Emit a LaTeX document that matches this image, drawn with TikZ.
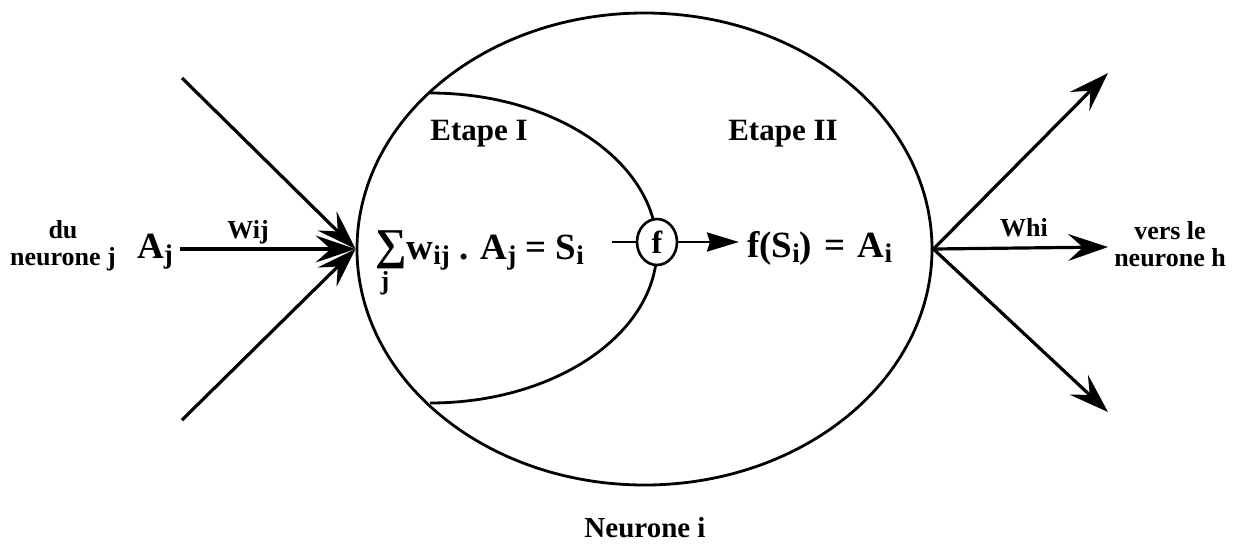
\documentclass[tikz,border=0pt]{standalone}
\usepackage{fontspec}
\setmainfont{Liberation Serif}
\usetikzlibrary{arrows.meta,shapes.geometric}
\newcommand{\lo}[1]{\raisebox{-0.16em}{\fontsize{27}{27}\selectfont #1}}
\begin{document}
\begin{tikzpicture}[x=1pt,y=-1pt,
  every node/.style={font=\bfseries},
  lbl/.style={font=\bfseries\fontsize{26}{27}\selectfont, align=center, inner sep=0pt},
  stage/.style={font=\bfseries\fontsize{31}{33}\selectfont, inner sep=0pt},
  form/.style={font=\bfseries\fontsize{37}{40}\selectfont, inner sep=0pt},
  bigarrow/.style={line width=3.2pt, -{Stealth[length=40pt,width=27pt,inset=15pt]}},
  smallarrow/.style={line width=2.8pt, -{Stealth[length=32pt,width=19pt,inset=3pt]}},
  outline/.style={line width=2.8pt}]
\useasboundingbox (0,0) rectangle (1244,550);
% neuron body
\node[outline, draw, ellipse, minimum width=575pt, minimum height=472pt, inner sep=0pt] (neur) at (644.5,249) {};
% inner arc (stage I)
\coordinate (arcTop) at (430,93);
\draw[outline] (arcTop) arc[start angle=90, end angle=-90, x radius=227, y radius=-155];
% stage labels
\node[stage] (e1) at (479,134) {Etape I};
\node[stage] (e2) at (783,134) {Etape II};
\node[stage, font=\bfseries\fontsize{29}{31}\selectfont] (ni) at (645,528) {Neurone i};
% incoming
\coordinate (in1) at (182,78);
\coordinate (in3) at (182,420);
\node[lbl, font=\bfseries\fontsize{37}{40}\selectfont, anchor=base east] (aj) at (173,258) {A\lo{j}};
\node[lbl] (du) at (63,246) {du\\neurone j};
\draw[bigarrow] (in1) -- (neur.west);
\draw[bigarrow] (aj.east |- neur.west) ++(7,0) -- (neur.west);
\draw[bigarrow] (in3) -- (neur.west);
\node[lbl] (wij) at (248,232) {Wij};
% outgoing
\coordinate (out1) at (1108,73);
\coordinate (out2) at (1108,247);
\coordinate (out3) at (1108,412);
\draw[bigarrow] (neur.east) -- (out1);
\draw[bigarrow] (neur.east) -- (out2);
\draw[bigarrow] (neur.east) -- (out3);
\node[lbl] (whi) at (1024,228) {Whi};
\node[lbl] (vers) at (1170,244) {vers le\\neurone h};
% formulas
\node[form, anchor=base west] (sum) at (375,259) {\fontsize{44}{44}\selectfont ∑\fontsize{37}{40}\selectfont w\lo{ij} . A\lo{j} = S\lo{i}};
\node[lbl] (sj) at (385,283) {j};
\node[draw, ellipse, line width=2.6pt, minimum width=40pt, minimum height=46pt, inner sep=0pt, fill=white, font=\bfseries\fontsize{32}{32}\selectfont] (fc) at (657,242) {f};
\coordinate (fin) at (612,242);
\coordinate (fout) at (739,242);
\draw[line width=2.8pt] (fin) -- (fc.west);
\draw[smallarrow] (fc.east) -- (fout);
\node[form, anchor=base west] (fs) at (747,257) {f(S\lo{i})\hspace{3pt} =\hspace{3pt} A\lo{i}};
\end{tikzpicture}
\end{document}
